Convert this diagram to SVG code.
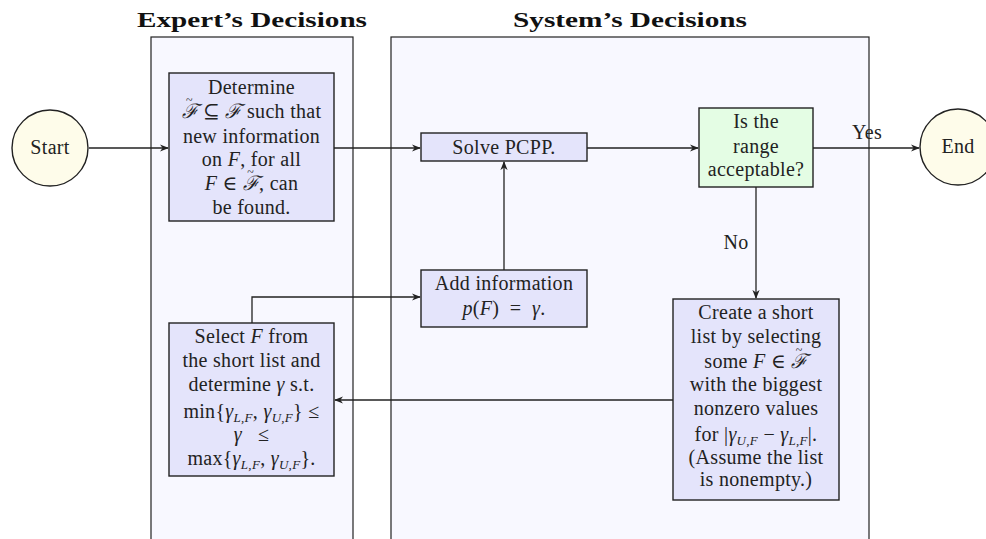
<svg xmlns="http://www.w3.org/2000/svg" width="986" height="539" viewBox="0 0 986 539">
<style>
.lane{fill:#f8f8ff;stroke:#222;stroke-width:1.2}
.box{fill:#e4e4fb;stroke:#222;stroke-width:1.4}
.dec{fill:#e4fde4;stroke:#222;stroke-width:1.4}
.term{fill:#fefcea;stroke:#222;stroke-width:1.4}
.title{font-family:"Liberation Serif","DejaVu Serif",serif;font-weight:bold;font-size:21px;fill:#111;text-anchor:middle}
.t{font-family:"Liberation Serif","DejaVu Serif",serif;font-size:20px;letter-spacing:0.3px;fill:#222;text-anchor:middle}
.i{font-style:italic}
.s{font-size:13px;font-style:italic}
.tl{font-size:12px;font-style:normal}
.c{fill:none;stroke:#222;stroke-width:1.3}
</style>
<defs>
<marker id="ah" viewBox="0 0 10 10" refX="9" refY="5" markerWidth="9" markerHeight="9" markerUnits="userSpaceOnUse" orient="auto">
<path d="M0,1 L10,5 L0,9 L3,5 Z" fill="#222"/>
</marker>
</defs>
<rect width="986" height="539" fill="#fff"/>
<g id="lane-expert">
<rect class="lane" x="151" y="37" width="202" height="510"/>
<text class="title" x="252" y="27" textLength="230" lengthAdjust="spacingAndGlyphs">Expert’s Decisions</text>
</g>
<g id="lane-system">
<rect class="lane" x="391" y="37" width="478" height="510"/>
<text class="title" x="630" y="27" textLength="234" lengthAdjust="spacingAndGlyphs">System’s Decisions</text>
</g>
<g id="connectors">
<line class="c" x1="89" y1="148" x2="168" y2="148" marker-end="url(#ah)"/>
<line class="c" x1="334" y1="148" x2="420" y2="148" marker-end="url(#ah)"/>
<line class="c" x1="587" y1="148" x2="698" y2="148" marker-end="url(#ah)"/>
<line class="c" x1="813" y1="148" x2="919" y2="148" marker-end="url(#ah)"/>
<line class="c" x1="756" y1="187" x2="756" y2="298" marker-end="url(#ah)"/>
<line class="c" x1="673" y1="400" x2="335" y2="400" marker-end="url(#ah)"/>
<polyline class="c" points="252,323 252,297 420,297" marker-end="url(#ah)"/>
<line class="c" x1="504" y1="270" x2="504" y2="162" marker-end="url(#ah)"/>
<text class="t" x="867" y="139">Yes</text>
<text class="t" x="736" y="249">No</text>
</g>
<g id="start">
<circle class="term" cx="50" cy="148" r="38"/>
<text class="t" x="50" y="154">Start</text>
</g>
<g id="end">
<circle class="term" cx="958" cy="147" r="38"/>
<text class="t" x="958" y="153">End</text>
</g>
<g id="determine">
<rect class="box" x="169" y="73" width="165" height="148"/>
<text class="t" x="251.5" y="94">Determine</text>
<text class="t" x="251.5" y="118"><tspan class="i">ℱ</tspan><tspan class="tl" dx="-12" dy="-14">~</tspan><tspan dx="5" dy="14"> ⊆ </tspan><tspan class="i">ℱ</tspan> such that</text>
<text class="t" x="251.5" y="143">new information</text>
<text class="t" x="251.5" y="166">on <tspan class="i">F</tspan>, for all</text>
<text class="t" x="251.5" y="190"><tspan class="i">F</tspan> ∈ <tspan class="i">ℱ</tspan><tspan class="tl" dx="-12" dy="-14">~</tspan><tspan dx="5" dy="14">, can</tspan></text>
<text class="t" x="251.5" y="214">be found.</text>
</g>
<g id="solve">
<rect class="box" x="421" y="133" width="166" height="28"/>
<text class="t" x="504" y="154">Solve PCPP.</text>
</g>
<g id="decision">
<rect class="dec" x="699" y="108" width="114" height="79"/>
<text class="t" x="756" y="128">Is the</text>
<text class="t" x="756" y="153">range</text>
<text class="t" x="756" y="176">acceptable?</text>
</g>
<g id="add-info">
<rect class="box" x="421" y="270" width="166" height="57"/>
<text class="t" x="504" y="290">Add information</text>
<text class="t" x="504" y="315"><tspan class="i">p</tspan>(<tspan class="i">F</tspan>)&#160;&#160;=&#160;&#160;<tspan class="i">γ</tspan>.</text>
</g>
<g id="create-list">
<rect class="box" x="673" y="299" width="166" height="201"/>
<text class="t" x="756" y="319">Create a short</text>
<text class="t" x="756" y="343">list by selecting</text>
<text class="t" x="756" y="368">some <tspan class="i">F</tspan> ∈ <tspan class="i">ℱ</tspan><tspan class="tl" dx="-12" dy="-14">~</tspan><tspan dx="5" dy="14"> </tspan></text>
<text class="t" x="756" y="391">with the biggest</text>
<text class="t" x="756" y="415">nonzero values</text>
<text class="t" x="756" y="441">for |<tspan class="i">γ</tspan><tspan class="s" dy="4">U,F</tspan><tspan dy="-4"> − </tspan><tspan class="i">γ</tspan><tspan class="s" dy="4">L,F</tspan><tspan dy="-4">|.</tspan></text>
<text class="t" x="756" y="464">(Assume the list</text>
<text class="t" x="756" y="486">is nonempty.)</text>
</g>
<g id="select">
<rect class="box" x="169" y="323" width="165" height="153"/>
<text class="t" x="251.5" y="343">Select <tspan class="i">F</tspan> from</text>
<text class="t" x="251.5" y="367">the short list and</text>
<text class="t" x="251.5" y="391">determine <tspan class="i">γ</tspan> s.t.</text>
<text class="t" x="251.5" y="418">min{<tspan class="i">γ</tspan><tspan class="s" dy="4">L,F</tspan><tspan dy="-4">, </tspan><tspan class="i">γ</tspan><tspan class="s" dy="4">U,F</tspan><tspan dy="-4">} ≤</tspan></text>
<text class="t" x="251.5" y="441"><tspan class="i">γ</tspan>&#160;&#160;&#160;≤</text>
<text class="t" x="251.5" y="465">max{<tspan class="i">γ</tspan><tspan class="s" dy="4">L,F</tspan><tspan dy="-4">, </tspan><tspan class="i">γ</tspan><tspan class="s" dy="4">U,F</tspan><tspan dy="-4">}.</tspan></text>
</g>
</svg>
